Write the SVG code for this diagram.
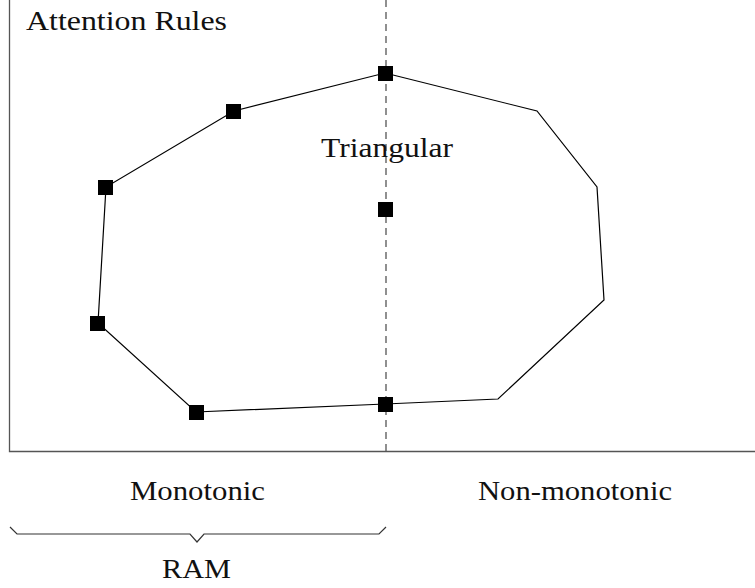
<svg xmlns="http://www.w3.org/2000/svg" width="755" height="588" viewBox="0 0 755 588">
<style>
text{font-family:"Liberation Serif","DejaVu Serif",serif;font-size:27px;fill:#111}
.sq{fill:#000}
</style>
<rect width="755" height="588" fill="#fff"/>
<g id="axes" stroke="#555" stroke-width="1.3" fill="none">
<path d="M9.5 0V451.5H755"/>
<path d="M386 0V451" stroke-dasharray="7,5"/>
</g>
<g id="connectors" fill="none" stroke="#000" stroke-width="1.2">
<polygon points="385,73 537,111 597,187 604,300 498,399 385,404 196,412 98,323 106,187 234,111"/>
</g>
<g id="nodes">
<g id="n1"><rect class="sq" x="378" y="66" width="15" height="15"/></g>
<g id="n2"><rect class="sq" x="226" y="104" width="15" height="15"/></g>
<g id="n3"><rect class="sq" x="98" y="180" width="15" height="15"/></g>
<g id="n4"><rect class="sq" x="90" y="316" width="15" height="15"/></g>
<g id="n5"><rect class="sq" x="189" y="405" width="15" height="15"/></g>
<g id="n6"><rect class="sq" x="378" y="397" width="15" height="15"/></g>
<g id="n7"><rect class="sq" x="378" y="202" width="15" height="15"/></g>
</g>
<g id="brace"><path d="M10 527L17 534H190L197 542L204 534H379L386 527" fill="none" stroke="#333" stroke-width="1.2"/></g>
<g id="labels">
<text x="26" y="30" textLength="201" lengthAdjust="spacingAndGlyphs">Attention Rules</text>
<text x="321" y="157" textLength="132" lengthAdjust="spacingAndGlyphs">Triangular</text>
<text x="130" y="500" textLength="135" lengthAdjust="spacingAndGlyphs">Monotonic</text>
<text x="478" y="500" textLength="194" lengthAdjust="spacingAndGlyphs">Non-monotonic</text>
<text x="162" y="578" textLength="69" lengthAdjust="spacingAndGlyphs">RAM</text>
</g>
</svg>
